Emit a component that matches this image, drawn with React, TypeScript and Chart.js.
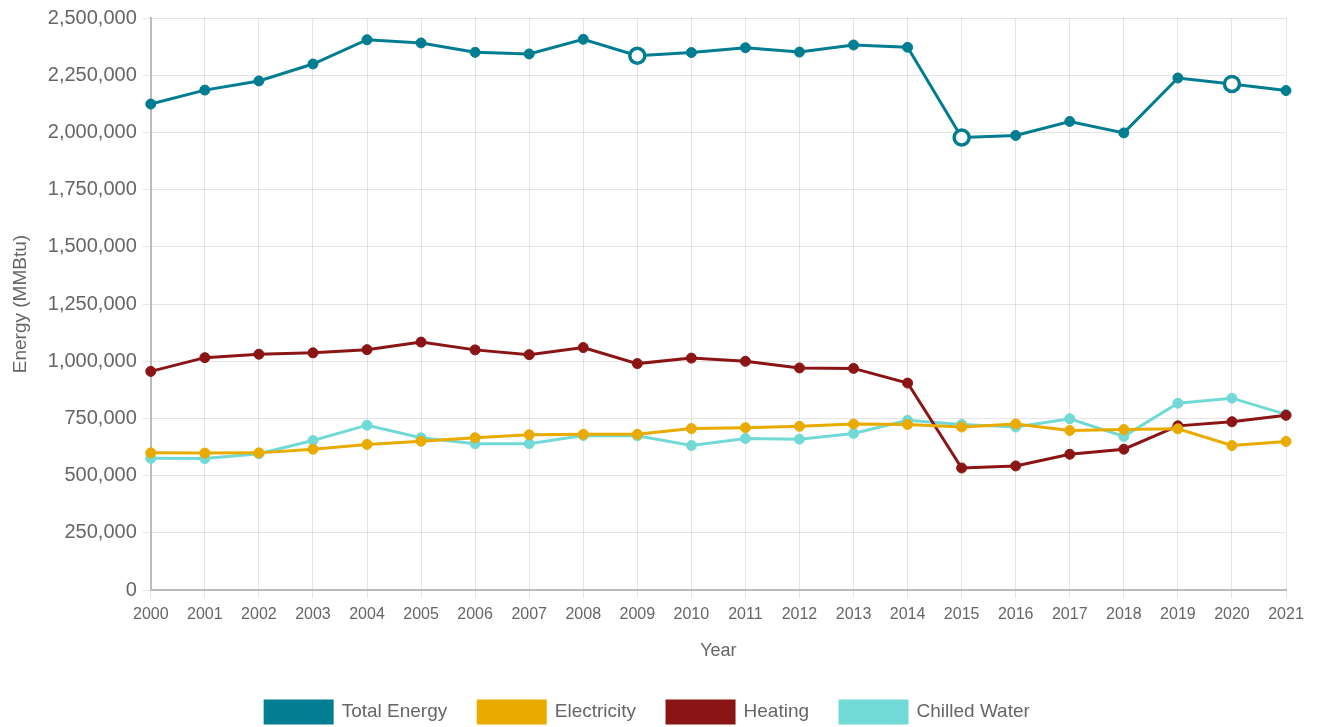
import React, { useEffect, useRef } from "react";
import { Chart, registerables } from "chart.js";

Chart.register(...registerables);

const years = ["2000","2001","2002","2003","2004","2005","2006","2007","2008","2009","2010","2011","2012","2013","2014","2015","2016","2017","2018","2019","2020","2021"];

const totalEnergy = [2124000, 2185000, 2225000, 2299000, 2405000, 2391000, 2350000, 2343000, 2407000, 2335000, 2349000, 2370000, 2351000, 2382000, 2372000, 1978000, 1987000, 2048000, 1998000, 2238000, 2212000, 2183000];
const electricity = [600000, 599000, 600000, 616000, 637000, 651000, 666000, 679000, 681000, 681000, 706000, 710000, 716000, 726000, 724000, 713000, 726000, 698000, 702000, 705000, 632000, 650000];
const heating = [956000, 1016000, 1031000, 1037000, 1051000, 1084000, 1050000, 1029000, 1060000, 990000, 1014000, 1000000, 971000, 969000, 905000, 534000, 543000, 594000, 616000, 718000, 736000, 764000];
const chilledWater = [576000, 575000, 596000, 654000, 721000, 666000, 640000, 640000, 676000, 675000, 632000, 663000, 660000, 685000, 742000, 724000, 713000, 749000, 672000, 817000, 839000, 768000];

const hollowYears = ["2009", "2015", "2020"];

const yMax = 2500000;
const yStep = 250000;

const COLORS = {
  total: "#007d91",
  elec: "#eaab00",
  heat: "#8b1515",
  chill: "#72dad6",
};

export default function App() {
  const ref = useRef<HTMLCanvasElement | null>(null);

  useEffect(() => {
    if (!ref.current) return;
    const hollow = years.map((y) => hollowYears.includes(y));
    const font = "'Liberation Sans', Arial, sans-serif";
    const mk = (label: string, data: number[], color: string) => ({
      label,
      data,
      borderColor: color,
      backgroundColor: color,
      pointBackgroundColor: color,
      pointBorderColor: color,
      borderWidth: 3,
      pointRadius: 5,
      pointBorderWidth: 1,
      tension: 0,
    });
    const total: any = mk("Total Energy", totalEnergy, COLORS.total);
    total.pointRadius = hollow.map((h) => (h ? 7.5 : 5));
    total.pointBackgroundColor = hollow.map((h) => (h ? "#ffffff" : COLORS.total));
    total.pointBorderWidth = hollow.map((h) => (h ? 3.5 : 1));

    const chart = new Chart(ref.current, {
      type: "line",
      data: {
        labels: years,
        datasets: [
          total,
          mk("Electricity", electricity, COLORS.elec),
          mk("Heating", heating, COLORS.heat),
          mk("Chilled Water", chilledWater, COLORS.chill),
        ],
      },
      options: {
        animation: false,
        responsive: false,
        maintainAspectRatio: false,
        layout: { padding: { left: 9, right: 32, top: 5, bottom: -6 } },
        plugins: {
          tooltip: { enabled: false },
          legend: {
            position: "bottom",
            labels: {
              boxWidth: 67,
              boxHeight: 22,
              padding: 31,
              color: "#666",
              font: { family: font, size: 19 },
            },
          },
        },
        scales: {
          x: {
            offset: false,
            grid: { color: "rgba(0,0,0,0.1)", tickLength: 8, tickColor: "rgba(0,0,0,0.1)" },
            border: { color: "#bbbbbb", width: 2 },
            ticks: { color: "#666", font: { family: font, size: 16 }, maxRotation: 0, autoSkip: false, padding: 7 },
            title: { display: true, text: "Year", color: "#666", font: { family: font, size: 18 }, padding: { top: 9, bottom: 8 } },
          },
          y: {
            min: 0,
            max: yMax,
            grid: { color: "rgba(0,0,0,0.1)", tickLength: 8, tickColor: "rgba(0,0,0,0.1)" },
            border: { color: "#bbbbbb", width: 2 },
            ticks: {
              stepSize: yStep,
              color: "#666",
              font: { family: font, size: 20 },
              padding: 6,
              callback: (v: any) => Number(v).toLocaleString("en-US"),
            },
            title: { display: true, text: "Energy (MMBtu)", color: "#666", font: { family: font, size: 19 }, padding: { top: 0, bottom: 10 } },
          },
        },
      },
    });
    return () => chart.destroy();
  }, []);

  return (
    <div style={{ position: "fixed", left: 0, top: 0, width: 1318, height: 727, background: "#fff" }}>
      <canvas ref={ref} width={1318} height={727} style={{ width: 1318, height: 727, display: "block" }} />
    </div>
  );
}
